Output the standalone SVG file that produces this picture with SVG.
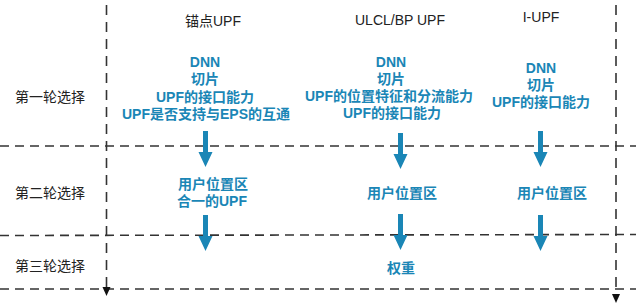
<svg xmlns="http://www.w3.org/2000/svg" xmlns:xlink="http://www.w3.org/1999/xlink" width="644" height="305" viewBox="0 0 644 305">
  <style>
    .lbl { font-family: "Liberation Sans", "Noto Sans CJK SC", sans-serif; font-size: 14px; fill: #222; }
    .blue { font-family: "Liberation Sans", "Noto Sans CJK SC", sans-serif; font-size: 14px; font-weight: bold; fill: #1a86b6; text-anchor: middle; }
    .hd { text-anchor: middle; }
    .dash { stroke: #333; stroke-width: 1.6; stroke-dasharray: 9 6; fill: none; }
    .vdash { stroke: #333; stroke-width: 1.6; stroke-dasharray: 10 7; fill: none; }
    .barrow { fill: #1a86b6; }
    .tip { fill: #111; }
  </style>
  <defs>
    <polygon id="arr" points="-2.5,0 2.5,0 2.5,21 7,21 0,36 -7,21 -2.5,21"/>
  </defs>
  <rect width="644" height="305" fill="#ffffff"/>

  <g id="grid">
    <line class="dash" x1="0" y1="146" x2="636" y2="146"/>
    <line class="dash" x1="0" y1="235.5" x2="636" y2="234.5"/>
    <line class="dash" x1="0" y1="289" x2="636" y2="289"/>
    <line class="vdash" x1="106.5" y1="5" x2="106.5" y2="287"/>
    <path class="tip" d="M102.5,287 L110.5,287 L106.5,296 Z"/>
    <line class="vdash" x1="616" y1="5" x2="616" y2="295"/>
    <path class="tip" d="M612,294 L620,294 L616,303 Z"/>
  </g>

  <g id="row-labels">
    <text class="lbl" x="15" y="102">第一轮选择</text>
    <text class="lbl" x="15" y="198">第二轮选择</text>
    <text class="lbl" x="15" y="271">第三轮选择</text>
  </g>

  <g id="headers">
    <text class="lbl hd" x="213" y="26">锚点UPF</text>
    <text class="lbl hd" x="400" y="25">ULCL/BP UPF</text>
    <text class="lbl hd" x="541" y="22">I-UPF</text>
  </g>

  <g id="anchor-r1">
    <text class="blue" x="205" y="67">DNN</text>
    <text class="blue" x="205" y="84">切片</text>
    <text class="blue" x="205" y="102">UPF的接口能力</text>
    <text class="blue" x="206" y="119">UPF是否支持与EPS的互通</text>
  </g>
  <g id="ulcl-r1">
    <text class="blue" x="391" y="67">DNN</text>
    <text class="blue" x="391" y="84">切片</text>
    <text class="blue" x="389" y="101">UPF的位置特征和分流能力</text>
    <text class="blue" x="392" y="118">UPF的接口能力</text>
  </g>
  <g id="iupf-r1">
    <text class="blue" x="541" y="73">DNN</text>
    <text class="blue" x="541" y="90">切片</text>
    <text class="blue" x="541" y="107">UPF的接口能力</text>
  </g>

  <g id="anchor-r2">
    <text class="blue" x="213" y="189">用户位置区</text>
    <text class="blue" x="212" y="206">合一的UPF</text>
  </g>
  <g id="ulcl-r2">
    <text class="blue" x="402" y="198">用户位置区</text>
  </g>
  <g id="iupf-r2">
    <text class="blue" x="552" y="198">用户位置区</text>
  </g>
  <g id="ulcl-r3">
    <text class="blue" x="401" y="273">权重</text>
  </g>

  <g id="connectors" class="barrow">
    <use xlink:href="#arr" href="#arr" transform="translate(205.5,131)"/>
    <use xlink:href="#arr" href="#arr" transform="translate(205.5,215)"/>
    <use xlink:href="#arr" href="#arr" transform="translate(400.5,133)"/>
    <use xlink:href="#arr" href="#arr" transform="translate(400.5,214)"/>
    <use xlink:href="#arr" href="#arr" transform="translate(540.5,131)"/>
    <use xlink:href="#arr" href="#arr" transform="translate(540.5,215)"/>
  </g>
</svg>
